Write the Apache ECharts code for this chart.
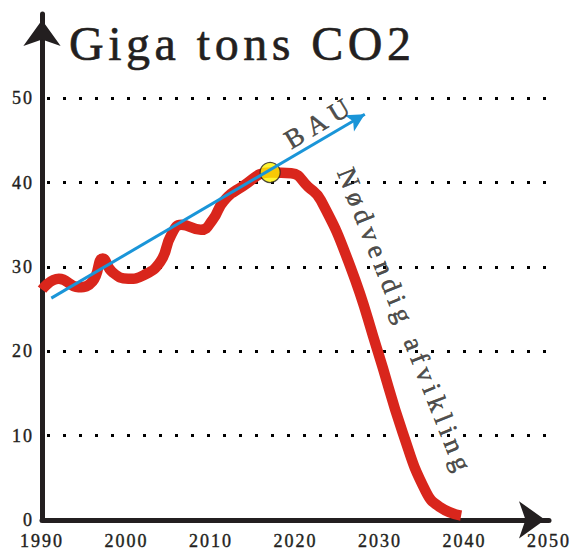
<!DOCTYPE html>
<html>
<head>
<meta charset="utf-8">
<script src="https://cdn.jsdelivr.net/npm/echarts@6/dist/echarts.min.js"></script>
<style>
html,body{margin:0;padding:0;background:#fff;}
#chart{width:579px;height:550px;}
</style>
</head>
<body>
<div id="chart"></div>
<script>
// ---- data ----
const emissionYears  = [1990, 1992, 1994.3, 1996, 1997.2, 1998.3, 2000.2, 2002, 2004, 2005.3, 2006.5, 2008.8, 2010.2, 2011.5, 2013.8, 2017, 2019.5, 2021.5, 2023, 2026.5, 2029.7, 2032.7, 2035.4, 2037.1, 2039.6];
const emissionValues = [27.3, 28.6, 27.6, 28.3, 31.0, 29.4, 28.6, 29.0, 30.6, 33.8, 35.0, 34.4, 35.6, 37.8, 39.6, 41.2, 41.1, 39.5, 37.9, 30.0, 20.1, 10.3, 3.4, 1.5, 0.5];
const bauFrom = [1991.1, 26.3];
const bauTo   = [2028.2, 48.1];
const peakPoint = [2017, 41.2];
const yTicks = [0, 10, 20, 30, 40, 50];
const xTicks = [1990, 2000, 2010, 2020, 2030, 2040, 2050];
const titleText = 'Giga tons CO2';
const bauLabel = {text: 'BAU', at: [2022.9, 47.2]};
const phaseOutLabel = {text: 'Nødvendig afvikling', at: [2033.0, 23.5]};

const redData = emissionYears.map((y, i) => [y, emissionValues[i]]);
const FONT = '"Liberation Serif", "Times New Roman", serif';
const INK = '#231f20';

const chart = echarts.init(document.getElementById('chart'), null, {renderer: 'svg'});
chart.setOption({
  animation: false,
  backgroundColor: '#fff',
  title: {
    text: titleText, left: 64, top: 14,
    textStyle: {fontFamily: FONT, fontSize: 48, fontWeight: 'normal', color: INK,
      textBorderColor: INK, textBorderWidth: 0.6}
  },
  grid: {left: 42, right: 30, top: 14, bottom: 30, containLabel: false},
  xAxis: {
    type: 'value', min: 1990, max: 2050, interval: 10,
    axisLine: {show: true, symbol: ['none', 'arrow'], symbolSize: [28, 26], symbolOffset: [0, -4],
      lineStyle: {color: INK, width: 5}},
    axisTick: {show: false},
    splitLine: {show: false},
    axisLabel: {margin: 12, color: INK, fontFamily: FONT, fontSize: 18,
      textBorderColor: INK, textBorderWidth: 0.4,
      formatter: v => xTicks.includes(v) ? String(v) : ''}
  },
  yAxis: {
    type: 'value', min: 0, max: 60, interval: 10,
    axisLine: {show: true, symbol: ['none', 'arrow'], symbolSize: [28, 26], symbolOffset: [0, -6],
      lineStyle: {color: INK, width: 5}},
    axisTick: {show: false},
    splitLine: {show: true, showMinLine: false, showMaxLine: false,
      lineStyle: {color: '#000', width: 3, type: [3, 13], dashOffset: 11, cap: 'butt'}},
    axisLabel: {margin: 8, color: INK, fontFamily: FONT, fontSize: 18,
      textBorderColor: INK, textBorderWidth: 0.4,
      formatter: v => yTicks.includes(v) ? String(v) : ''}
  },
  series: [
    {
      type: 'line', data: redData, smooth: 0.5, showSymbol: false, symbol: 'none',
      lineStyle: {color: '#d9261c', width: 10.5, cap: 'butt', join: 'round'}, z: 2, silent: true
    },
    {
      type: 'scatter', data: [peakPoint], symbolSize: 20, z: 3, silent: true,
      itemStyle: {color: '#fff200', borderColor: INK, borderWidth: 1.2}
    },
    {
      type: 'line', data: [], z: 4, silent: true,
      markLine: {
        silent: true, animation: false, symbol: ['none', 'arrow'], symbolSize: [14, 18],
        label: {show: false},
        lineStyle: {color: '#1a95d8', width: 3, type: 'solid'},
        data: [[{coord: bauFrom}, {coord: bauTo}]]
      }
    },
    {
      type: 'scatter', symbolSize: 0, z: 5, silent: true,
      data: [
        {value: bauLabel.at, label: {formatter: bauLabel.text, rotate: 31}},
        {value: phaseOutLabel.at, label: {formatter: phaseOutLabel.text, rotate: -68.5}}
      ],
      label: {show: true, position: 'inside', color: INK, fontFamily: FONT, fontSize: 27,
        textBorderColor: INK, textBorderWidth: 0.5}
    }
  ]
});

function applySpacing() {
  document.querySelectorAll('#chart svg text').forEach(t => {
    const s = t.textContent;
    let ls = '2px';
    if (s === titleText) ls = '4.5px';
    else if (s === bauLabel.text) ls = '7px';
    else if (s === phaseOutLabel.text) ls = '5.5px';
    t.style.letterSpacing = ls;
  });
}
chart.on('finished', applySpacing);
applySpacing();
setTimeout(applySpacing, 50);
</script>
</body>
</html>
